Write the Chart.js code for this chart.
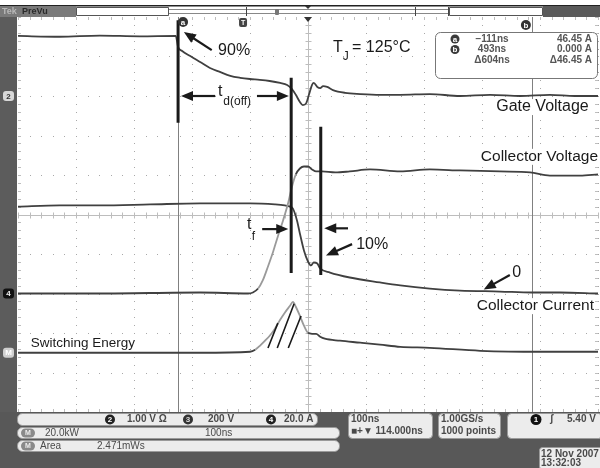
<!DOCTYPE html>
<html>
<head>
<meta charset="utf-8">
<script src="https://cdn.jsdelivr.net/npm/chart.js@4.4.0/dist/chart.umd.min.js"></script>
<style>
  html, body { margin: 0; padding: 0; background: #fff; }
  #scope { display: block; }
</style>
</head>
<body>
<canvas id="scope" width="600" height="468"></canvas>
<script>
// Escalas del osciloscopio (por división)
const timePerDiv = 100;      // ns/div
const gateVoltsPerDiv = 1.0; // canal 2
const vceVoltsPerDiv = 200;  // canal 3
const icAmpsPerDiv = 20;     // canal 4
const energyKwPerDiv = 20;   // math M

// Nivel de tierra de cada canal, en divisiones desde el centro
const gateGround = 3;
const collectorGround = -2;
const energyGround = -3.5;

// Tensión de puerta (ns, V)
const gateTime  = [-500, -428, -359, -290, -228, -224, -217, -203, -186, -169, -152, -134, -117, -100, -83, -66, -48, -36, -28, -21, -14, -9, -3, 2, 7, 10, 16, 21, 26, 33, 43, 64, 90, 124, 159, 210, 262, 314, 366, 417, 460, 500];
const gateVolts = [1.52, 1.50, 1.53, 1.51, 1.52, 1.24, 1.14, 1.01, 0.86, 0.71, 0.61, 0.51, 0.46, 0.43, 0.41, 0.38, 0.33, 0.28, 0.18, 0.03, -0.15, -0.23, -0.18, 0.05, 0.28, 0.33, 0.23, 0.20, 0.25, 0.23, 0.15, 0.08, 0.05, 0.03, 0.03, 0.05, 0.00, 0.03, 0.00, 0.03, 0.00, 0.00];

// Tensión de colector (ns, V)
const vceTime  = [-500, -359, -186, -103, -95, -86, -78, -69, -60, -52, -43, -34, -28, -21, -14, -7, 0, 7, 14, 24, 47, 72, 107, 159, 210, 262, 331, 383, 417, 469, 500];
const vceVolts = [0, 0, 5, 0, 5, 25, 66, 137, 213, 289, 370, 461, 537, 603, 633, 643, 643, 628, 618, 618, 613, 618, 628, 618, 628, 623, 618, 613, 597, 597, 603];

// Corriente de colector (ns, A)
const icTime = [-500, -428, -359, -272, -186, -100, -57, -40, -31, -26, -19, -14, -7, 0, 5, 10, 16, 21, 38, 72, 124, 159, 210, 262, 331, 386, 434, 500];
const icAmps = [44.0, 44.6, 44.6, 45.1, 45.6, 45.6, 45.1, 44.6, 44.0, 43.0, 37.0, 30.4, 21.8, 16.2, 14.2, 15.7, 15.2, 12.7, 10.6, 8.1, 5.6, 4.1, 2.5, 1.5, 1.0, 0.5, 0.5, 0.0];

// Energía de conmutación (ns, kW)
const energyTime = [-500, -359, -186, -100, -91, -83, -74, -66, -57, -48, -40, -31, -26, -21, -14, -7, 0, 7, 14, 21, 29, 55, 90, 124, 159, 210, 297, 400, 500];
const energyKw   = [0, 0, 0, 0.5, 1.5, 3.5, 6.1, 8.6, 12.2, 16.7, 20.3, 23.8, 25.8, 23.3, 18.7, 13.7, 10.1, 9.6, 9.6, 8.1, 7.1, 6.1, 5.1, 4.1, 3.0, 2.5, 1.0, 0.5, 0.5];

// Cursores a y b (ns)
const cursorTimes = [-224, 386];
const triggerTime = -112;

// Lecturas del cuadro de cursores
const readoutRows = [
  ["a", "\u2212111ns", "46.45 A"],
  ["b", "493ns", "0.000 A"],
  ["", "\u0394604ns", "\u039446.45 A"]
];

function trace(times, values, perDiv, ground) {
  return times.map((t, i) => ({ x: t, y: ground + values[i] / perDiv }));
}

// Los tramos rápidos se ven más claros en la pantalla del osciloscopio
function fastSegment(limit) {
  return c => {
    const s = Math.abs(c.p1.parsed.y - c.p0.parsed.y) / Math.max(1e-6, c.p1.parsed.x - c.p0.parsed.x);
    return s > limit ? "#9a9a9a" : "#404040";
  };
}

const FONT = '"Liberation Sans", Arial, sans-serif';
const UI_FONT = '"Liberation Sans", Arial, sans-serif';

function arrow(g, x0, y0, x1, y1) {
  const ang = Math.atan2(y1 - y0, x1 - x0);
  const len = 12, half = 5;
  g.beginPath();
  g.moveTo(x0, y0);
  g.lineTo(x1 - Math.cos(ang) * len * 0.8, y1 - Math.sin(ang) * len * 0.8);
  g.stroke();
  g.beginPath();
  g.moveTo(x1, y1);
  g.lineTo(x1 - Math.cos(ang) * len + Math.sin(ang) * half, y1 - Math.sin(ang) * len - Math.cos(ang) * half);
  g.lineTo(x1 - Math.cos(ang) * len - Math.sin(ang) * half, y1 - Math.sin(ang) * len + Math.cos(ang) * half);
  g.closePath();
  g.fill();
}

function badge(g, x, y, label, bg, fg, r) {
  g.beginPath();
  g.arc(x, y, r || 5, 0, Math.PI * 2);
  g.fillStyle = bg;
  g.fill();
  g.fillStyle = fg;
  g.font = "bold 8px " + UI_FONT;
  g.textAlign = "center";
  g.textBaseline = "middle";
  g.fillText(label, x, y + 0.5);
}

function box(g, x, y, w, h, r, fill, stroke) {
  g.beginPath();
  g.roundRect(x, y, w, h, r);
  g.fillStyle = fill;
  g.fill();
  if (stroke) { g.strokeStyle = stroke; g.lineWidth = 1; g.stroke(); }
}

const scopePlugin = {
  id: "scope",
  beforeDatasetsDraw(chart) {
    const g = chart.ctx, a = chart.chartArea;
    const xs = chart.scales.x, ys = chart.scales.y;
    const X = t => xs.getPixelForValue(t), Y = d => ys.getPixelForValue(d);
    g.save();
    g.fillStyle = "#fff";
    g.fillRect(0, 0, chart.width, chart.height);

    // retícula punteada
    g.fillStyle = "#a8a8a8";
    for (let i = -5; i <= 5; i++) {
      const x = Math.round(X(i * timePerDiv));
      for (let k = -25; k <= 25; k++) g.fillRect(x, Math.round(Y(k / 5)), 1, 1);
      const y = Math.round(Y(i));
      for (let k = -25; k <= 25; k++) g.fillRect(Math.round(X(k * timePerDiv / 5)), y, 1, 1);
    }
    // cruz central con marcas
    g.strokeStyle = "#bdbdbd";
    g.lineWidth = 1;
    const cx = Math.round(X(0)) + 0.5, cy = Math.round(Y(0)) + 0.5;
    g.beginPath();
    g.moveTo(a.left, cy); g.lineTo(a.right, cy);
    g.moveTo(cx, a.top); g.lineTo(cx, a.bottom);
    for (let k = -25; k <= 25; k++) {
      const x = Math.round(X(k * timePerDiv / 5)) + 0.5, y = Math.round(Y(k / 5)) + 0.5;
      g.moveTo(x, cy - 3); g.lineTo(x, cy + 3);
      g.moveTo(cx - 3, y); g.lineTo(cx + 3, y);
      g.moveTo(x, a.top); g.lineTo(x, a.top + 3);
      g.moveTo(x, a.bottom); g.lineTo(x, a.bottom - 3);
      g.moveTo(a.left, y); g.lineTo(a.left + 3, y);
      g.moveTo(a.right, y); g.lineTo(a.right - 3, y);
    }
    g.stroke();

    // cursores
    g.strokeStyle = "#808080";
    const ca = Math.round(X(cursorTimes[0])) + 0.5, cb = Math.round(X(cursorTimes[1])) + 0.5;
    g.beginPath();
    g.moveTo(ca, a.top); g.lineTo(ca, a.bottom);
    g.moveTo(cb, a.top); g.lineTo(cb, a.bottom);
    g.stroke();
    g.restore();
  },
  afterDatasetsDraw(chart) {
    const g = chart.ctx, a = chart.chartArea;
    const xs = chart.scales.x, ys = chart.scales.y;
    const X = t => xs.getPixelForValue(t), Y = d => ys.getPixelForValue(d);
    g.save();

    // líneas de medida gruesas
    g.strokeStyle = "#1a1a1a";
    g.fillStyle = "#1a1a1a";
    g.lineWidth = 3;
    const bars = [[-224, 4.92, 2.32], [-29, 3.46, -1.48], [22, 2.22, -1.53]];
    g.beginPath();
    bars.forEach(b => { g.moveTo(X(b[0]), Y(b[1])); g.lineTo(X(b[0]), Y(b[2])); });
    g.stroke();

    // rayado bajo el pico de energía
    g.lineWidth = 1.6;
    const hatch = [[-69, -3.38, -52, -2.75], [-53, -3.38, -24, -2.26], [-34, -3.38, -12, -2.57]];
    g.beginPath();
    hatch.forEach(h => { g.moveTo(X(h[0]), Y(h[1])); g.lineTo(X(h[2]), Y(h[3])); });
    g.stroke();

    // flechas
    g.lineWidth = 2.2;
    const arrows = [
      [-166, 4.16, -214, 4.62],
      [-160, 3.0, -219, 3.0],
      [-88, 3.0, -33, 3.0],
      [-79, -0.37, -34, -0.37],
      [69, -0.35, 28, -0.35],
      [76, -0.75, 31, -1.04],
      [348, -1.53, 303, -1.9]
    ];
    arrows.forEach(p => arrow(g, X(p[0]), Y(p[1]), X(p[2]), Y(p[3])));

    // textos de anotación
    g.fillStyle = "#1a1a1a";
    g.textBaseline = "middle";
    g.textAlign = "left";
    g.font = "16px " + FONT;
    g.fillText("90%", X(-155), Y(4.16));
    g.fillText("10%", X(83), Y(-0.77));
    g.fillText("0", X(352), Y(-1.46));
    g.fillText("t", X(-155), Y(3.1));
    g.fillText("t", X(-105), Y(-0.26));
    g.fillText("T", X(43), Y(4.22));
    g.font = "12px " + FONT;
    g.fillText("d(off)", X(-146), Y(2.86));
    g.fillText("f", X(-97), Y(-0.55));
    g.fillText("J", X(60), Y(4.0));
    g.font = "16px " + FONT;
    g.fillText("= 125\u00b0C", X(76), Y(4.22));

    // etiquetas de las trazas (fondo blanco tapa el cursor)
    const labels = [
      ["Gate Voltage", 484, 2.72, "right", 16],
      ["Collector Voltage", 500, 1.46, "right", 15.5],
      ["Collector Current", 493, -2.32, "right", 15.5],
      ["Switching Energy", -478, -3.25, "left", 13.5]
    ];
    labels.forEach(l => {
      g.font = l[4] + "px " + FONT;
      const w = g.measureText(l[0]).width;
      const x = X(l[1]), y = Y(l[2]);
      const x0 = l[3] === "right" ? x - w : x;
      g.fillStyle = "#fff";
      g.fillRect(x0 - 1, y - 8, w + 2, 16);
      g.fillStyle = "#1a1a1a";
      g.textAlign = l[3];
      g.fillText(l[0], x, y);
    });

    // cuadro de lecturas de cursor
    box(g, 435.5, 32.5, 162, 46, 5, "#fff", "#777");
    readoutRows.forEach((r, i) => {
      const y = 39 + i * 10.5;
      if (r[0]) badge(g, 455, y, r[0], "#3a3a3a", "#fff", 4.5);
      g.fillStyle = "#555";
      g.font = "bold 10px " + UI_FONT;
      g.textAlign = "center";
      g.fillText(r[1], 492, y);
      g.textAlign = "right";
      g.fillText(r[2], 592, y);
    });

    // marcadores superiores de cursor y disparo
    badge(g, X(cursorTimes[0]) + 5, a.top + 5, "a", "#333", "#fff", 5);
    badge(g, X(cursorTimes[1]) - 6, a.top + 8, "b", "#333", "#fff", 5);
    box(g, X(triggerTime) - 4, a.top + 1, 8, 9, 2, "#444");
    g.fillStyle = "#fff";
    g.font = "bold 7px " + UI_FONT;
    g.textAlign = "center";
    g.fillText("T", X(triggerTime), a.top + 6);
    g.fillStyle = "#333";
    g.beginPath();
    g.moveTo(X(0) - 4, a.top); g.lineTo(X(0) + 4, a.top); g.lineTo(X(0), a.top + 5);
    g.fill();

    // barra superior
    g.fillStyle = "#fff";
    g.fillRect(0, 0, chart.width, a.top);
    g.fillStyle = "#222";
    g.fillRect(0, 5, chart.width, 1.5);
    g.fillStyle = "#7a7a7a";
    g.fillRect(0, 6, 76, 11);
    g.font = "bold 9px " + UI_FONT;
    g.textAlign = "left";
    g.fillStyle = "#b8b8b8";
    g.fillText("Tek", 2, 12);
    g.fillStyle = "#2a2a2a";
    g.fillText("PreVu", 22, 12);
    box(g, 76.5, 7.5, 92, 8, 0, "#fff", "#555");
    g.strokeStyle = "#888";
    g.lineWidth = 1;
    g.beginPath();
    g.moveTo(169, 9.5); g.lineTo(448, 9.5);
    g.moveTo(169, 13.5); g.lineTo(448, 13.5);
    g.stroke();
    g.strokeStyle = "#444";
    g.beginPath();
    [246.5, 415.5, 448.5].forEach(x => { g.moveTo(x, 7); g.lineTo(x, 16); });
    g.stroke();
    box(g, 275, 9, 4, 6, 1, "#777");
    g.fillStyle = "#333";
    g.beginPath();
    g.moveTo(X(0) - 3, 6); g.lineTo(X(0) + 3, 6); g.lineTo(X(0), 9);
    g.fill();
    box(g, 449.5, 7.5, 93, 8, 0, "#fff", "#555");
    g.fillStyle = "#5a5a5a";
    g.fillRect(543, 6, 57, 11);

    // franja izquierda con marcadores de canal
    g.fillStyle = "#5c5c5c";
    g.fillRect(0, a.top, a.left - 1, a.bottom - a.top);
    const marks = [[gateGround, "2", "#d8d8d8", "#333"], [collectorGround, "4", "#111", "#eee"], [energyGround, "M", "#cfcfcf", "#fff"]];
    marks.forEach(m => {
      const y = Y(m[0]);
      box(g, 3, y - 5, 11, 10, 3, m[2]);
      g.fillStyle = m[3];
      g.font = "bold 8px " + UI_FONT;
      g.textAlign = "center";
      g.fillText(m[1], 8.5, y + 0.5);
    });

    // panel inferior
    g.fillStyle = "#585858";
    g.fillRect(0, a.bottom, chart.width, chart.height - a.bottom);
    const light = "#ececec", edge = "#9a9a9a", ink = "#4a4a4a";
    box(g, 17.5, 413.5, 300, 12, 5, light, edge);
    box(g, 17.5, 427.5, 322, 11, 5, light, edge);
    box(g, 17.5, 440.5, 322, 11, 5, light, edge);
    box(g, 348.5, 413.5, 84, 25, 4, light, edge);
    box(g, 438.5, 413.5, 62, 25, 4, light, edge);
    box(g, 507.5, 413.5, 95, 25, 4, light, edge);
    box(g, 539.5, 447.5, 64, 22, 3, light, edge);

    badge(g, 110, 419.5, "2", "#222", "#fff", 5);
    badge(g, 188, 419.5, "3", "#333", "#ddd", 5);
    badge(g, 271, 419.5, "4", "#222", "#fff", 5);
    g.font = "bold 10px " + UI_FONT;
    g.fillStyle = ink;
    g.textAlign = "left";
    g.fillText("1.00 V \u03a9", 127, 419.5);
    g.fillText("200 V", 208, 419.5);
    g.fillText("20.0 A", 284, 419.5);
    [433, 446].forEach(y => {
      box(g, 21, y - 4.5, 14, 9, 4.5, "#8a8a8a");
      g.fillStyle = "#eee";
      g.font = "bold 7px " + UI_FONT;
      g.textAlign = "center";
      g.fillText("M", 28, y + 0.5);
    });
    g.font = "10px " + UI_FONT;
    g.fillStyle = ink;
    g.textAlign = "left";
    g.fillText("20.0kW", 45, 433);
    g.fillText("100ns", 205, 433);
    g.fillText("Area", 40, 446);
    g.fillText("2.471mWs", 97, 446);
    g.font = "bold 10px " + UI_FONT;
    g.fillText("100ns", 351, 419.5);
    g.fillText("\u25a0+\u25bc 114.000ns", 351, 431.5);
    g.fillText("1.00GS/s", 441, 419.5);
    g.fillText("1000 points", 441, 431.5);
    badge(g, 536, 419.5, "1", "#111", "#fff", 5.5);
    g.fillStyle = ink;
    g.font = "bold 10px " + UI_FONT;
    g.textAlign = "left";
    g.fillText("\u0283", 550, 419.5);
    g.fillText("5.40 V", 567, 419.5);
    g.fillText("12 Nov 2007", 541, 454);
    g.fillText("13:32:03", 541, 463.5);

    g.restore();
  }
};

const ctx = document.getElementById("scope");
new Chart(ctx, {
  type: "line",
  data: {
    datasets: [
      {
        label: "Gate Voltage",
        data: trace(gateTime, gateVolts, gateVoltsPerDiv, gateGround),
        borderColor: "#404040",
        segment: { borderColor: fastSegment(0.2) }
      },
      {
        label: "Collector Voltage",
        data: trace(vceTime, vceVolts, vceVoltsPerDiv, collectorGround),
        borderColor: "#404040",
        segment: { borderColor: fastSegment(0.025) }
      },
      {
        label: "Collector Current",
        data: trace(icTime, icAmps, icAmpsPerDiv, collectorGround),
        borderColor: "#404040"
      },
      {
        label: "Switching Energy",
        data: trace(energyTime, energyKw, energyKwPerDiv, energyGround),
        borderColor: "#404040",
        segment: { borderColor: fastSegment(0.012) }
      }
    ]
  },
  options: {
    responsive: false,
    animation: false,
    devicePixelRatio: 1,
    elements: {
      line: { borderWidth: 1.8, cubicInterpolationMode: "monotone" },
      point: { radius: 0 }
    },
    layout: { padding: { left: 18, right: 2, top: 17, bottom: 56 } },
    scales: {
      x: { type: "linear", min: -5 * timePerDiv, max: 5 * timePerDiv, display: false },
      y: { type: "linear", min: -5, max: 5, display: false }
    },
    plugins: {
      legend: { display: false },
      tooltip: { enabled: false }
    }
  },
  plugins: [scopePlugin]
});
</script>
</body>
</html>
